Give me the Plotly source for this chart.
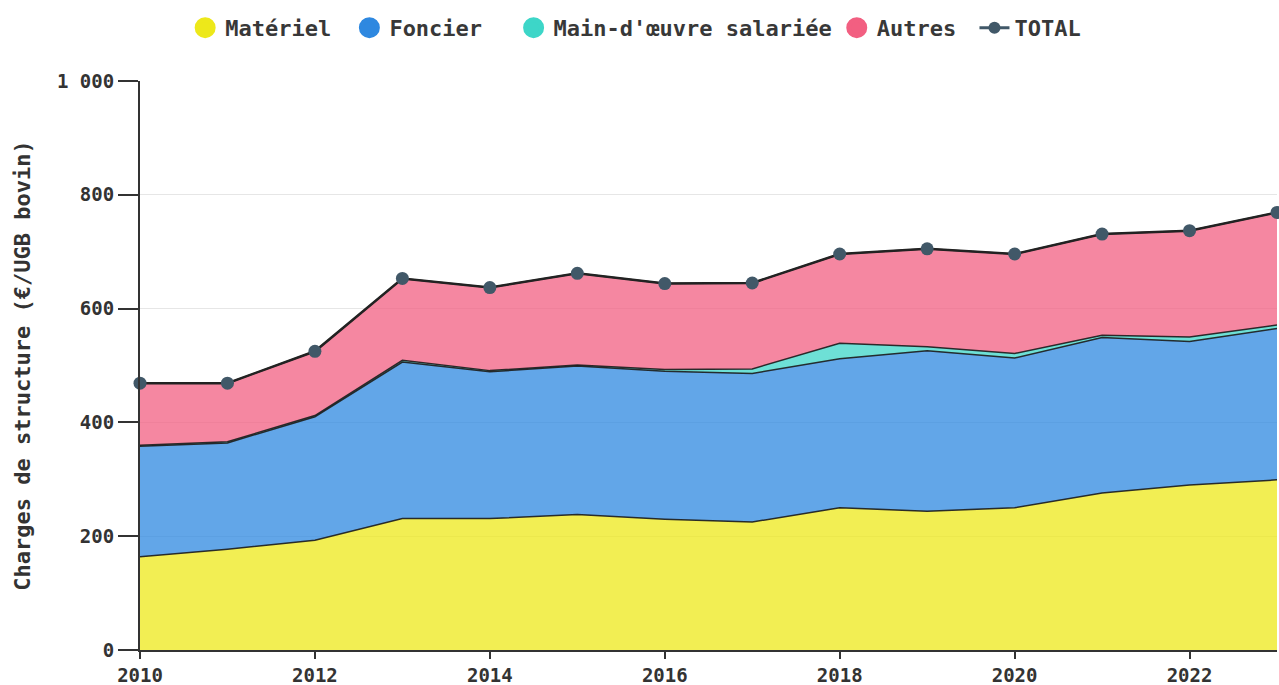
import plotly.graph_objects as go

years = list(range(2010, 2024))
materiel = [164, 177, 193, 231, 231, 238, 230, 225, 250, 244, 250, 276, 290, 299]
foncier = [194, 187, 217, 275, 258, 261, 260, 261, 262, 282, 263, 273, 252, 266]
main_oeuvre = [2, 2, 2, 3, 2, 2, 3, 8, 27, 7, 8, 4, 8, 6]
autres = [109, 103, 113, 144, 146, 161, 151, 151, 157, 172, 175, 178, 187, 198]
total = [a + b + c + d for a, b, c, d in zip(materiel, foncier, main_oeuvre, autres)]

series = [
    ("Matériel", materiel, "#EDE81A", "rgba(237,232,26,0.75)"),
    ("Foncier", foncier, "#2E88E0", "rgba(46,136,224,0.75)"),
    ("Main-d'œuvre salariée", main_oeuvre, "#3DD6C8", "rgba(61,214,200,0.75)"),
    ("Autres", autres, "#F25F81", "rgba(242,95,129,0.75)"),
]
# extra legend spacing (non-breaking spaces) per entry
legend_pad = {"Matériel": 1, "Foncier": 2, "Main-d'œuvre salariée": 0, "Autres": 1}

FONT = "DejaVu Sans Mono"
fig = go.Figure()

for name, vals, col, fill in series:
    fig.add_trace(go.Scatter(
        x=years, y=vals, name=name, mode="lines", stackgroup="one",
        fillcolor=fill, line=dict(color="rgba(25,25,25,0.9)", width=1.5),
        showlegend=False, hoverinfo="x+y+name"))

fig.add_trace(go.Scatter(
    x=years, y=total, name="TOTAL", mode="lines+markers",
    line=dict(color="#222222", width=2.5),
    marker=dict(color="#415868", size=13),
    cliponaxis=False, showlegend=False))

# legend entries
for name, vals, col, fill in series:
    fig.add_trace(go.Scatter(
        x=[None], y=[None], name=name + "\u00a0" * legend_pad[name], mode="markers",
        marker=dict(color=col, size=16, line=dict(color=col, width=5)),
        showlegend=True))
fig.add_trace(go.Scatter(
    x=[None], y=[None], name="TOTAL", mode="lines+markers",
    line=dict(color="#415868", width=3),
    marker=dict(color="#415868", size=12), showlegend=True))

fig.update_layout(
    width=1279, height=685,
    margin=dict(l=140, r=2, t=81, b=35),
    paper_bgcolor="white", plot_bgcolor="white",
    separators=", ",
    font=dict(family=FONT, size=19, color="#333333", weight="bold"),
    legend=dict(orientation="h", xref="container", yref="container",
                x=0.497, xanchor="center", y=0.99, yanchor="top",
                traceorder="normal",
                font=dict(family=FONT, size=22, color="#383838", weight="bold"),
                itemsizing="trace", bgcolor="rgba(0,0,0,0)"),
    xaxis=dict(range=[2010, 2023], tick0=2010, dtick=2, showgrid=False,
               zeroline=False, showline=True, linecolor="#333333", linewidth=2,
               ticks="outside", ticklen=7, tickwidth=2, tickcolor="#333333",
               automargin=False,
               tickfont=dict(family=FONT, size=19, color="#333333", weight="bold")),
    yaxis=dict(range=[0, 1000], dtick=200, showgrid=True, gridcolor="#e6e6e6",
               gridwidth=1, zeroline=False, showline=True, linecolor="#333333",
               linewidth=2, ticks="outside", ticklen=20, tickwidth=2,
               tickcolor="#333333", tickformat=",d", automargin=False,
               tickfont=dict(family=FONT, size=19, color="#333333", weight="bold"),
               title=dict(text="Charges de structure (€/UGB bovin)", standoff=20,
                          font=dict(family=FONT, size=22, color="#333333", weight="bold"))),
)

fig.write_html("out.html", config={"displayModeBar": False},
               post_script="document.body.style.margin='0';document.body.style.overflow='hidden';")
